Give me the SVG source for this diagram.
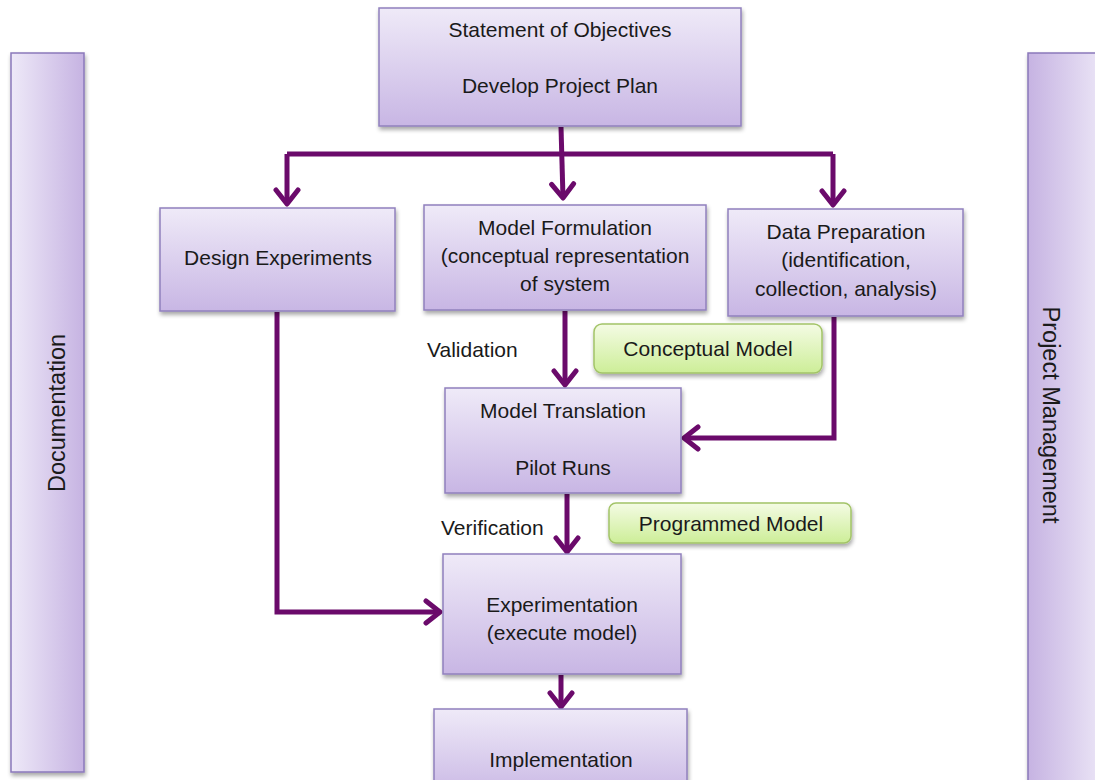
<svg xmlns="http://www.w3.org/2000/svg" width="1095" height="780" viewBox="0 0 1095 780">
  <defs>
    <linearGradient id="boxGrad" x1="0" y1="0" x2="0" y2="1">
      <stop offset="0" stop-color="#efeaf8"/>
      <stop offset="1" stop-color="#c8b6e4"/>
    </linearGradient>
    <linearGradient id="barLeft" x1="0" y1="0" x2="1" y2="0">
      <stop offset="0" stop-color="#eee9f8"/>
      <stop offset="1" stop-color="#c6b3e2"/>
    </linearGradient>
    <linearGradient id="barRight" x1="0" y1="0" x2="1" y2="0">
      <stop offset="0" stop-color="#c6b3e2"/>
      <stop offset="1" stop-color="#eee9f8"/>
    </linearGradient>
    <linearGradient id="greenGrad" x1="0" y1="0" x2="0" y2="1">
      <stop offset="0" stop-color="#f4fbe4"/>
      <stop offset="1" stop-color="#cdee98"/>
    </linearGradient>
    <filter id="shadow" x="-10%" y="-10%" width="120%" height="130%">
      <feGaussianBlur in="SourceAlpha" stdDeviation="2"/>
      <feOffset dx="1" dy="3" result="b"/>
      <feComponentTransfer><feFuncA type="linear" slope="0.35"/></feComponentTransfer>
      <feMerge><feMergeNode/><feMergeNode in="SourceGraphic"/></feMerge>
    </filter>
    <marker id="chev" viewBox="0 0 24 28" refX="19" refY="14" markerWidth="24" markerHeight="28" markerUnits="userSpaceOnUse" orient="auto">
      <path d="M5,3 L19,14 L5,25" fill="none" stroke="#6b0a6b" stroke-width="5" stroke-linecap="round" stroke-linejoin="round"/>
    </marker>
  </defs>
  <style>
    .box { fill: url(#boxGrad); stroke: #9080bd; stroke-width: 1.5; }
    .green { fill: url(#greenGrad); stroke: #a3c468; stroke-width: 1.5; }
    .t { font-family: "Liberation Sans", Arial, sans-serif; font-size: 21px; fill: #1a1a1a; text-anchor: middle; }
    .side { font-family: "Liberation Sans", Arial, sans-serif; font-size: 23.5px; fill: #1a1a1a; text-anchor: middle; }
    .lbl { font-family: "Liberation Sans", Arial, sans-serif; font-size: 21px; fill: #1a1a1a; }
    .wire { fill: none; stroke: #6b0a6b; stroke-width: 5; stroke-linejoin: miter; }
  </style>
  <rect width="1095" height="780" fill="#ffffff"/>

  <!-- side bars -->
  <g id="documentation">
    <rect x="11" y="53" width="73" height="719" fill="url(#barLeft)" stroke="#8a78bb" stroke-width="1.5" filter="url(#shadow)"/>
    <text class="side" transform="translate(65,413) rotate(-90)">Documentation</text>
  </g>
  <g id="project-management">
    <rect x="1028" y="53" width="80" height="740" fill="url(#barRight)" stroke="#8a78bb" stroke-width="1.5" filter="url(#shadow)"/>
    <text class="side" transform="translate(1043,415) rotate(90)">Project Management</text>
  </g>

  <!-- connectors -->
  <g id="connectors">
    <path class="wire" d="M287,154 H833"/>
    <path class="wire" d="M561,127 L563,198" marker-end="url(#chev)"/>
    <path class="wire" d="M287,154 V204" marker-end="url(#chev)"/>
    <path class="wire" d="M833,154 V205" marker-end="url(#chev)"/>
    <path class="wire" d="M277,312 V612 H440" marker-end="url(#chev)"/>
    <path class="wire" d="M565,311 V385" marker-end="url(#chev)"/>
    <path class="wire" d="M834,317 V438 H684" marker-end="url(#chev)"/>
    <path class="wire" d="M567,494 V552" marker-end="url(#chev)"/>
    <path class="wire" d="M561,675 V707" marker-end="url(#chev)"/>
  </g>

  <!-- nodes -->
  <g id="objectives">
    <rect class="box" x="379" y="8" width="362" height="118" filter="url(#shadow)"/>
    <text class="t" x="560" y="37">Statement of Objectives</text>
    <text class="t" x="560" y="93">Develop Project Plan</text>
  </g>
  <g id="design-experiments">
    <rect class="box" x="160" y="208" width="235" height="103" filter="url(#shadow)"/>
    <text class="t" x="278" y="265">Design Experiments</text>
  </g>
  <g id="model-formulation">
    <rect class="box" x="424" y="205" width="282" height="105" filter="url(#shadow)"/>
    <text class="t" x="565" y="235">Model Formulation</text>
    <text class="t" x="565" y="263">(conceptual representation</text>
    <text class="t" x="565" y="291">of system</text>
  </g>
  <g id="data-preparation">
    <rect class="box" x="728" y="209" width="235" height="107" filter="url(#shadow)"/>
    <text class="t" x="846" y="239">Data Preparation</text>
    <text class="t" x="846" y="267">(identification,</text>
    <text class="t" x="846" y="296">collection, analysis)</text>
  </g>
  <g id="conceptual-model">
    <rect class="green" x="594" y="324" width="228" height="49" rx="8" filter="url(#shadow)"/>
    <text class="t" x="708" y="356">Conceptual Model</text>
  </g>
  <g id="model-translation">
    <rect class="box" x="445" y="388" width="236" height="105" filter="url(#shadow)"/>
    <text class="t" x="563" y="418">Model Translation</text>
    <text class="t" x="563" y="475">Pilot Runs</text>
  </g>
  <g id="programmed-model">
    <rect class="green" x="609" y="503" width="242" height="40" rx="7" filter="url(#shadow)"/>
    <text class="t" x="731" y="531">Programmed Model</text>
  </g>
  <g id="experimentation">
    <rect class="box" x="443" y="554" width="238" height="120" filter="url(#shadow)"/>
    <text class="t" x="562" y="612">Experimentation</text>
    <text class="t" x="562" y="640">(execute model)</text>
  </g>
  <g id="implementation">
    <rect class="box" x="434" y="709" width="253" height="90" filter="url(#shadow)"/>
    <text class="t" x="561" y="767">Implementation</text>
  </g>

  <!-- edge labels -->
  <text class="lbl" x="427" y="357">Validation</text>
  <text class="lbl" x="441" y="535">Verification</text>
</svg>
